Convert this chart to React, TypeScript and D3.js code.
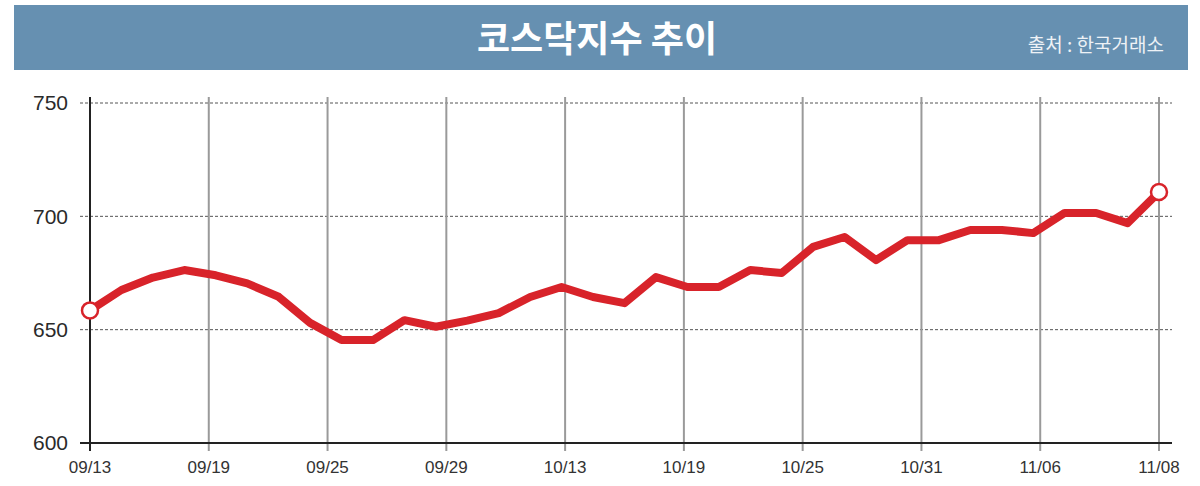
import * as d3 from 'd3';

const title = '코스닥지수 추이';
const source = '출처 : 한국거래소';

// KOSDAQ closing index, one value per trading day shown
const values = [
  658.5, 667.5, 673, 676.3, 674, 670.4, 664.5, 653, 645.4, 645.4,
  654.2, 651.3, 654, 657.3, 664.4, 668.8, 664.4, 661.7, 673.2, 668.8,
  668.8, 676.3, 675, 686.5, 690.9, 680.7, 689.5, 689.5, 694, 694,
  692.6, 701.5, 701.5, 697, 710.7,
];

const dateLabels = ['09/13', '09/19', '09/25', '09/29', '10/13', '10/19', '10/25', '10/31', '11/06', '11/08'];
const yTicks = [600, 650, 700, 750];

export default function App() {
  const width = 1200;
  const height = 486;
  const left = 90;
  const right = 1159;
  const top = 103;
  const bottom = 443;

  const x = d3.scaleLinear().domain([0, values.length - 1]).range([left, right]);
  const xTick = d3.scalePoint<string>().domain(dateLabels).range([left, right]);
  const y = d3.scaleLinear().domain([600, 750]).range([bottom, top]);

  const line = d3.line<number>()
    .x((_, i) => x(i))
    .y(d => y(d));

  const font = '"Liberation Sans Narrow", "Liberation Sans", Arial, sans-serif';
  const kFont = '"Noto Sans CJK KR", sans-serif';
  const last = values.length - 1;

  return (
    <div style={{ position: 'absolute', left: 0, top: 0 }}>
      <svg width={width} height={height} style={{ display: 'block', background: '#fff' }}>
        {/* Header band */}
        <rect x={14} y={5} width={1174} height={65} fill="#6690b1" />
        <text x={597} y={52} textAnchor="middle" fontSize={36} fontWeight="bold" fill="#fff" fontFamily={kFont}>
          {title}
        </text>
        <text x={1164} y={52} textAnchor="end" fontSize={19} fill="#eef2f6" fontFamily={kFont}>
          {source}
        </text>

        {/* Horizontal dashed grid */}
        {yTicks.filter(t => t !== 600).map(t => (
          <line key={t} x1={80} x2={1172} y1={y(t)} y2={y(t)} stroke="#555" strokeWidth={1} strokeDasharray="3,2" />
        ))}

        {/* Vertical grid */}
        {dateLabels.map((d, i) => (
          i === 0 ? null : (
            <line key={d} x1={xTick(d)} x2={xTick(d)} y1={top - 6} y2={bottom + 8} stroke="#9a9a9a" strokeWidth={2} />
          )
        ))}

        {/* Axes */}
        <line x1={left} x2={left} y1={top - 6} y2={bottom + 8} stroke="#222" strokeWidth={2} />
        <line x1={80} x2={1172} y1={bottom} y2={bottom} stroke="#222" strokeWidth={2} />

        {yTicks.map(t => (
          <text key={t} x={68} y={y(t)} dy="0.35em" textAnchor="end" fontSize={21} fill="#2a2a2a" fontFamily={font}>
            {t}
          </text>
        ))}
        {dateLabels.map(d => (
          <text key={d} x={xTick(d)} y={473} textAnchor="middle" fontSize={17} fill="#333" fontFamily={font}>
            {d}
          </text>
        ))}

        {/* Series */}
        <path d={line(values) ?? ''} fill="none" stroke="#d8232a" strokeWidth={8} strokeLinejoin="round" />
        <circle cx={x(0)} cy={y(values[0])} r={8} fill="#fff" stroke="#d8232a" strokeWidth={2.5} />
        <circle cx={x(last)} cy={y(values[last])} r={8} fill="#fff" stroke="#d8232a" strokeWidth={2.5} />
      </svg>
    </div>
  );
}
